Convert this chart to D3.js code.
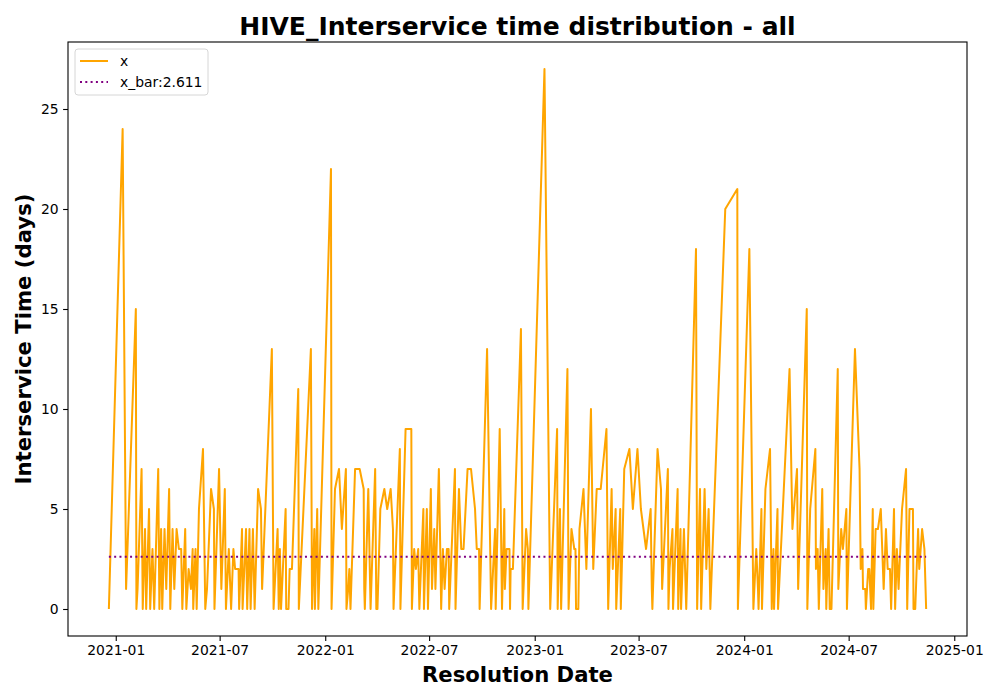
<!DOCTYPE html>
<html>
<head>
<meta charset="utf-8">
<script src="https://cdn.jsdelivr.net/npm/d3@7/dist/d3.min.js"></script>
<style>
  body { margin: 0; background: #fff; }
  svg { display: block; font-family: 'DejaVu Sans', sans-serif; }
</style>
</head>
<body>
<div class="visual"></div>
<script>
const [width, height] = [1000, 700];
const plot = { left: 68, right: 967, top: 42, bottom: 636 };
const TITLE = 'HIVE_Interservice time distribution - all';
const X_LABEL = 'Resolution Date';
const Y_LABEL = 'Interservice Time (days)';
const X_BAR = 2.611;

// resolution dates and interservice time (days)
const dates2021 = ['2020-12-20','2021-01-13','2021-01-19','2021-02-05','2021-02-06','2021-02-08','2021-02-15','2021-02-17','2021-02-21','2021-02-23',
  '2021-02-28','2021-03-02','2021-03-06','2021-03-09','2021-03-16','2021-03-18','2021-03-21','2021-03-23','2021-03-27','2021-03-30',
  '2021-04-04','2021-04-06','2021-04-10','2021-04-13','2021-04-17','2021-04-21','2021-04-25','2021-04-27','2021-05-02','2021-05-04',
  '2021-05-08','2021-05-12','2021-05-15','2021-05-16','2021-05-20','2021-05-22','2021-05-26','2021-06-02','2021-06-06','2021-06-09',
  '2021-06-16','2021-06-21','2021-06-22','2021-06-30','2021-07-04','2021-07-10','2021-07-12','2021-07-17','2021-07-21','2021-07-25',
  '2021-07-28','2021-08-03','2021-08-04','2021-08-09','2021-08-10','2021-08-16','2021-08-18','2021-08-22','2021-08-24','2021-08-28',
  '2021-08-31','2021-09-06','2021-09-11','2021-09-13','2021-09-30','2021-10-03','2021-10-10','2021-10-12','2021-10-14','2021-10-16',
  '2021-10-24','2021-10-25','2021-10-29','2021-10-31','2021-11-04','2021-11-15','2021-11-16','2021-12-07','2021-12-09','2021-12-13',
  '2021-12-14','2021-12-18','2021-12-20'];
const values2021 = [0,24,1,15,0,1,7,0,4,0,
  5,0,3,0,7,0,4,0,4,1,
  6,0,4,1,4,3,3,0,4,0,
  2,1,3,0,3,0,5,8,0,1,
  6,5,0,7,1,6,0,3,0,3,
  2,2,0,4,0,4,0,4,0,4,
  0,6,5,1,13,0,4,0,3,0,
  5,0,0,2,2,11,0,13,0,4,
  0,5,0];

const dates2022 = ['2022-01-11','2022-01-12','2022-01-18','2022-01-25','2022-01-30','2022-02-06','2022-02-07','2022-02-10','2022-02-12','2022-02-14',
  '2022-02-22','2022-03-02','2022-03-09','2022-03-10','2022-03-11','2022-03-17','2022-03-21','2022-03-29','2022-03-31','2022-04-02',
  '2022-04-07','2022-04-14','2022-04-19','2022-04-25','2022-04-29','2022-04-30','2022-05-11','2022-05-12','2022-05-21','2022-05-31',
  '2022-06-01','2022-06-05','2022-06-08','2022-06-12','2022-06-14','2022-06-21','2022-06-22','2022-06-27','2022-06-29','2022-07-04',
  '2022-07-06','2022-07-10','2022-07-12','2022-07-18','2022-07-21','2022-07-22','2022-07-25','2022-07-28','2022-08-01','2022-08-04',
  '2022-08-05','2022-08-15','2022-08-16','2022-08-22','2022-08-26','2022-08-30','2022-09-06','2022-09-12','2022-09-19','2022-09-22',
  '2022-09-26','2022-09-27','2022-10-10','2022-10-17','2022-10-24','2022-10-25','2022-11-01','2022-11-05','2022-11-09','2022-11-10',
  '2022-11-13','2022-11-18','2022-11-19','2022-11-20','2022-11-24','2022-12-08','2022-12-11','2022-12-17','2022-12-20','2022-12-21'];
const values2022 = [22,0,6,7,4,7,0,1,2,0,
  7,7,6,1,0,6,0,7,0,0,
  5,6,5,6,4,0,8,0,9,9,
  0,3,2,3,0,5,0,5,0,6,
  1,4,1,7,2,0,3,1,3,3,
  0,7,0,6,3,3,7,7,5,3,
  3,0,13,0,4,0,9,0,5,1,
  3,3,0,2,2,14,0,4,3,0];

const dates2023 = ['2023-01-18','2023-01-28','2023-02-09','2023-02-10','2023-02-14','2023-02-16','2023-02-27','2023-03-01','2023-03-06','2023-03-11',
  '2023-03-13','2023-03-14','2023-03-18','2023-03-20','2023-03-27','2023-04-01','2023-04-09','2023-04-13','2023-04-19','2023-04-26',
  '2023-05-06','2023-05-09','2023-05-15','2023-05-17','2023-05-22','2023-05-23','2023-05-30','2023-05-31','2023-06-06','2023-06-15',
  '2023-06-21','2023-06-29','2023-07-05','2023-07-14','2023-07-22','2023-07-24','2023-07-25','2023-08-03','2023-08-09','2023-08-11',
  '2023-08-21','2023-08-22','2023-08-24','2023-08-29','2023-08-30','2023-09-07','2023-09-08','2023-09-12','2023-09-13','2023-09-18',
  '2023-09-20','2023-09-22','2023-10-09','2023-10-11','2023-10-16','2023-10-18','2023-10-24','2023-10-27','2023-10-31','2023-11-03',
  '2023-11-29','2023-12-20','2023-12-21'];
const values2023 = [27,0,9,0,5,0,12,0,4,3,
  3,0,0,4,6,2,10,2,6,6,
  9,0,6,2,5,0,5,0,7,8,
  5,8,5,3,5,1,0,8,6,1,
  7,0,2,4,0,6,0,4,0,4,
  2,0,18,0,6,0,6,2,5,0,
  20,21,0];

const dates2024 = ['2024-01-10','2024-01-17','2024-01-22','2024-01-25','2024-01-26','2024-01-31','2024-02-01','2024-02-07','2024-02-15','2024-02-18',
  '2024-02-21','2024-02-22','2024-02-28','2024-02-29','2024-03-20','2024-03-25','2024-04-02','2024-04-04','2024-04-19','2024-04-20',
  '2024-04-25','2024-05-04','2024-05-05','2024-05-08','2024-05-10','2024-05-16','2024-05-18','2024-05-22','2024-05-23','2024-05-27',
  '2024-05-29','2024-06-01','2024-06-12','2024-06-13','2024-06-18','2024-06-21','2024-06-27','2024-06-28','2024-07-12','2024-07-20',
  '2024-07-22','2024-07-25','2024-07-26','2024-07-30','2024-07-31','2024-08-04','2024-08-06','2024-08-09','2024-08-12','2024-08-13',
  '2024-08-17','2024-08-21','2024-08-26','2024-08-31','2024-09-04','2024-09-07','2024-09-11','2024-09-13','2024-09-18','2024-09-20',
  '2024-09-23','2024-09-26','2024-10-02','2024-10-09','2024-10-11','2024-10-15','2024-10-21','2024-10-22','2024-10-25','2024-10-30',
  '2024-11-01','2024-11-06','2024-11-10','2024-11-13'];
const values2024 = [18,0,3,1,0,5,0,6,8,0,
  3,0,5,0,12,4,7,1,15,0,
  5,8,2,3,0,6,1,3,0,4,
  0,0,12,1,4,3,5,0,13,7,
  2,3,1,1,0,2,2,0,5,0,
  4,4,5,1,4,2,2,0,5,0,
  3,1,5,7,0,5,5,0,0,4,
  2,4,3,0];

const X_TICKS = ['2021-01','2021-07','2022-01','2022-07','2023-01','2023-07','2024-01','2024-07','2025-01'];
const Y_TICKS = [0, 5, 10, 15, 20, 25];

const parseDay = d3.timeParse('%Y-%m-%d');
const parseMonth = d3.timeParse('%Y-%m');

const dates = [...dates2021, ...dates2022, ...dates2023, ...dates2024].map(parseDay);
const values = [...values2021, ...values2022, ...values2023, ...values2024];
const series = dates.map((date, i) => ({ date, value: values[i] }));

const svg = d3
  .select('.visual')
  .append('svg')
  .attr('width', width)
  .attr('height', height);

// matplotlib style 5% margins
const [t0, t1] = d3.extent(dates);
const tPad = (t1 - t0) * 0.05;
const x_scale = d3
  .scaleTime()
  .domain([new Date(+t0 - tPad), new Date(+t1 + tPad)])
  .range([plot.left, plot.right]);

const vMax = d3.max(values);
const vPad = vMax * 0.05;
const y_scale = d3
  .scaleLinear()
  .domain([-vPad, vMax + vPad])
  .range([plot.bottom, plot.top]);

const x_axis = d3
  .axisBottom(x_scale)
  .tickValues(X_TICKS.map(parseMonth))
  .tickFormat(d3.timeFormat('%Y-%m'))
  .tickSize(4.9)
  .tickPadding(4.5)
  .tickSizeOuter(0);

const y_axis = d3
  .axisLeft(y_scale)
  .tickValues(Y_TICKS)
  .tickSize(4.9)
  .tickPadding(4.5)
  .tickSizeOuter(0);

const gx = svg
  .append('g')
  .attr('transform', `translate(0, ${plot.bottom})`)
  .call(x_axis);

const gy = svg
  .append('g')
  .attr('transform', `translate(${plot.left}, 0)`)
  .call(y_axis);

[gx, gy].forEach((g) => {
  g.select('.domain').remove();
  g.selectAll('text')
    .attr('font-family', "'DejaVu Sans', sans-serif")
    .attr('font-size', 13.9)
    .attr('fill', '#000');
  g.selectAll('line').attr('stroke', '#000').attr('stroke-width', 1.1);
});

const line = d3
  .line()
  .x((d) => x_scale(d.date))
  .y((d) => y_scale(d.value));

svg
  .append('path')
  .datum(series)
  .attr('d', line)
  .attr('fill', 'none')
  .attr('stroke', 'orange')
  .attr('stroke-width', 2)
  .attr('stroke-linejoin', 'round');

svg
  .append('line')
  .attr('x1', x_scale(t0))
  .attr('x2', x_scale(t1))
  .attr('y1', y_scale(X_BAR))
  .attr('y2', y_scale(X_BAR))
  .attr('stroke', 'purple')
  .attr('stroke-width', 2)
  .attr('stroke-dasharray', '2,3.3');

// frame
svg
  .append('rect')
  .attr('x', plot.left)
  .attr('y', plot.top)
  .attr('width', plot.right - plot.left)
  .attr('height', plot.bottom - plot.top)
  .attr('fill', 'none')
  .attr('stroke', '#000')
  .attr('stroke-width', 1.1);

svg
  .append('text')
  .attr('x', (plot.left + plot.right) / 2)
  .attr('y', 35)
  .attr('text-anchor', 'middle')
  .attr('font-size', 25)
  .attr('font-weight', 'bold')
  .text(TITLE);

svg
  .append('text')
  .attr('x', (plot.left + plot.right) / 2)
  .attr('y', 682)
  .attr('text-anchor', 'middle')
  .attr('font-size', 21.2)
  .attr('font-weight', 'bold')
  .text(X_LABEL);

svg
  .append('text')
  .attr('transform', `translate(31, ${(plot.top + plot.bottom) / 2}) rotate(-90)`)
  .attr('text-anchor', 'middle')
  .attr('font-size', 21.2)
  .attr('font-weight', 'bold')
  .text(Y_LABEL);

// legend
const legend = svg.append('g').attr('transform', 'translate(75, 49)');
legend
  .append('rect')
  .attr('width', 133)
  .attr('height', 46)
  .attr('rx', 3)
  .attr('fill', 'rgba(255,255,255,0.8)')
  .attr('stroke', '#d6d6d6');

const legendItems = [
  { label: 'x', color: 'orange', dash: null },
  { label: `x_bar:${X_BAR}`, color: 'purple', dash: '2,3.3' },
];
legendItems.forEach((item, i) => {
  const ly = 12 + i * 21;
  legend
    .append('line')
    .attr('x1', 5)
    .attr('x2', 33)
    .attr('y1', ly)
    .attr('y2', ly)
    .attr('stroke', item.color)
    .attr('stroke-width', 2)
    .attr('stroke-dasharray', item.dash);
  legend
    .append('text')
    .attr('x', 45)
    .attr('y', ly + 5)
    .attr('font-size', 13.9)
    .text(item.label);
});
</script>
</body>
</html>
